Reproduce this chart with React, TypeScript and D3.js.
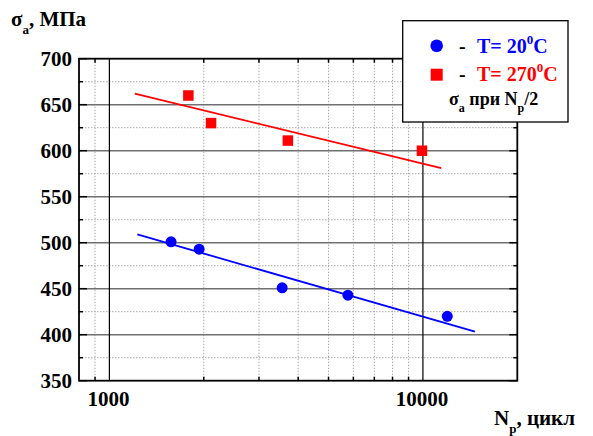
import React from "react";
import * as d3 from "d3";

const yTicks = [350, 400, 450, 500, 550, 600, 650, 700];
const yMinorTicks = [375, 425, 475, 525, 575, 625, 675];
const xMajorTicks = [1000, 10000];
const xMinorTicks = [900, 2000, 3000, 4000, 5000, 6000, 7000, 8000, 9000];

const redN = [1786, 2110, 3709, 9930];
const redS = [660, 630, 611, 600];
const redFitN = [1205, 11440];
const redFitS = [662, 581];

const blueN = [1573, 1933, 3557, 5764, 11960];
const blueS = [501, 493, 451, 443, 420];
const blueFitN = [1228, 14660];
const blueFitS = [509, 403.3];

const W = 593;
const H = 436;
const L = 79, R = 517.3, T = 58.7, B = 380.7;
const FF = "Liberation Serif";

export default function App() {
  const x = d3.scaleLog().domain([800, 20000]).range([L, R]);
  const y = d3.scaleLinear().domain([350, 700]).range([B, T]);
  const line = d3.line<[number, number]>().x(d => x(d[0])).y(d => y(d[1]));
  const redFit: [number, number][] = redFitN.map((n, i) => [n, redFitS[i]]);
  const blueFit: [number, number][] = blueFitN.map((n, i) => [n, blueFitS[i]]);
  const sq = 10.5;

  return (
    <svg width={W} height={H} style={{ position: "absolute", left: 0, top: 0 }}>
      <style>{`svg text, svg tspan { font-family: "Liberation Serif", "Times New Roman", Tinos, FreeSerif; font-weight: bold; }`}</style>
      <rect x={0} y={0} width={W} height={H} fill="#fff" />
      {/* minor grid */}
      {yMinorTicks.map(v => (
        <line key={"ym" + v} x1={L} x2={R} y1={y(v)} y2={y(v)} stroke="#aaa" strokeWidth={1} strokeDasharray="1.5,1.5" />
      ))}
      {xMinorTicks.map(v => (
        <line key={"xm" + v} x1={x(v)} x2={x(v)} y1={T} y2={B} stroke="#aaa" strokeWidth={1} strokeDasharray="1.5,1.5" />
      ))}
      {/* major grid */}
      {yTicks.slice(1, -1).map(v => (
        <line key={"yM" + v} x1={L} x2={R} y1={y(v)} y2={y(v)} stroke="#707070" strokeWidth={1.5} />
      ))}
      {xMajorTicks.map(v => (
        <line key={"xM" + v} x1={x(v)} x2={x(v)} y1={T} y2={B} stroke="#000" strokeWidth={1.2} />
      ))}
      {/* ticks */}
      {yTicks.map(v => (
        <g key={"yt" + v}>
          <line x1={L} x2={L + 8} y1={y(v)} y2={y(v)} stroke="#000" strokeWidth={1.5} />
          <line x1={R} x2={R - 8} y1={y(v)} y2={y(v)} stroke="#000" strokeWidth={1.5} />
        </g>
      ))}
      {yMinorTicks.map(v => (
        <g key={"ymt" + v}>
          <line x1={L} x2={L + 4} y1={y(v)} y2={y(v)} stroke="#000" strokeWidth={1.5} />
          <line x1={R} x2={R - 4} y1={y(v)} y2={y(v)} stroke="#000" strokeWidth={1.5} />
        </g>
      ))}
      {xMinorTicks.map(v => (
        <g key={"xmt" + v}>
          <line x1={x(v)} x2={x(v)} y1={B} y2={B - 4} stroke="#000" strokeWidth={1.5} />
          <line x1={x(v)} x2={x(v)} y1={T} y2={T + 4} stroke="#000" strokeWidth={1.5} />
        </g>
      ))}
      {/* frame */}
      <rect x={L} y={T} width={R - L} height={B - T} fill="none" stroke="#000" strokeWidth={1.8} />
      {/* y labels */}
      {yTicks.map(v => (
        <text key={"yl" + v} x={72} y={y(v) + 7.5} textAnchor="end" fontSize={21} fontWeight="bold" fontFamily={FF}>{v}</text>
      ))}
      {xMajorTicks.map(v => (
        <text key={"xl" + v} x={x(v) - 1} y={406} textAnchor="middle" fontSize={21} fontWeight="bold" fontFamily={FF}>{v}</text>
      ))}
      {/* fits */}
      <path d={line(redFit) || ""} stroke="#ff0000" strokeWidth={1.8} fill="none" />
      <path d={line(blueFit) || ""} stroke="#0000ff" strokeWidth={1.8} fill="none" />
      {/* points */}
      {redN.map((n, i) => (
        <rect key={"r" + i} x={x(n) - sq / 2} y={y(redS[i]) - sq / 2} width={sq} height={sq} fill="#ff0000" />
      ))}
      {blueN.map((n, i) => (
        <circle key={"b" + i} cx={x(n)} cy={y(blueS[i])} r={5.5} fill="#0000ff" />
      ))}
      {/* axis titles */}
      <text x={11} y={26} fontSize={21} fontWeight="bold" fontFamily={FF}>
        σ<tspan fontSize={13} dy={8}>a</tspan><tspan dy={-8}>, МПа</tspan>
      </text>
      <text x={494} y={425} fontSize={21} fontWeight="bold" fontFamily={FF}>
        N<tspan fontSize={13} dy={8}>p</tspan><tspan dy={-8}>, цикл</tspan>
      </text>
      {/* legend */}
      <rect x={402.7} y={20.7} width={165.3} height={101.3} fill="#fff" stroke="#000" strokeWidth={1.3} />
      <circle cx={436.7} cy={45.7} r={6.3} fill="#0000ff" />
      <text x={459} y={52.5} fontSize={20} fontWeight="bold" fontFamily={FF}>-</text>
      <text x={477} y={52.5} fontSize={20} fontWeight="bold" fill="#0000ff" fontFamily={FF}>
        T= 20<tspan fontSize={13} dy={-9}>0</tspan><tspan dy={9}>C</tspan>
      </text>
      <rect x={430.7} y={68.7} width={12} height={12} fill="#ff0000" />
      <text x={459} y={81} fontSize={20} fontWeight="bold" fontFamily={FF}>-</text>
      <text x={477} y={81} fontSize={20} fontWeight="bold" fill="#ff0000" fontFamily={FF}>
        T= 270<tspan fontSize={13} dy={-9}>0</tspan><tspan dy={9}>C</tspan>
      </text>
      <text x={449} y={105} fontSize={18} fontWeight="bold" fontFamily={FF}>
        σ<tspan fontSize={12} dy={7}>a</tspan><tspan dy={-7}> при N</tspan><tspan fontSize={12} dy={7}>p</tspan><tspan dy={-7}>/2</tspan>
      </text>
    </svg>
  );
}
